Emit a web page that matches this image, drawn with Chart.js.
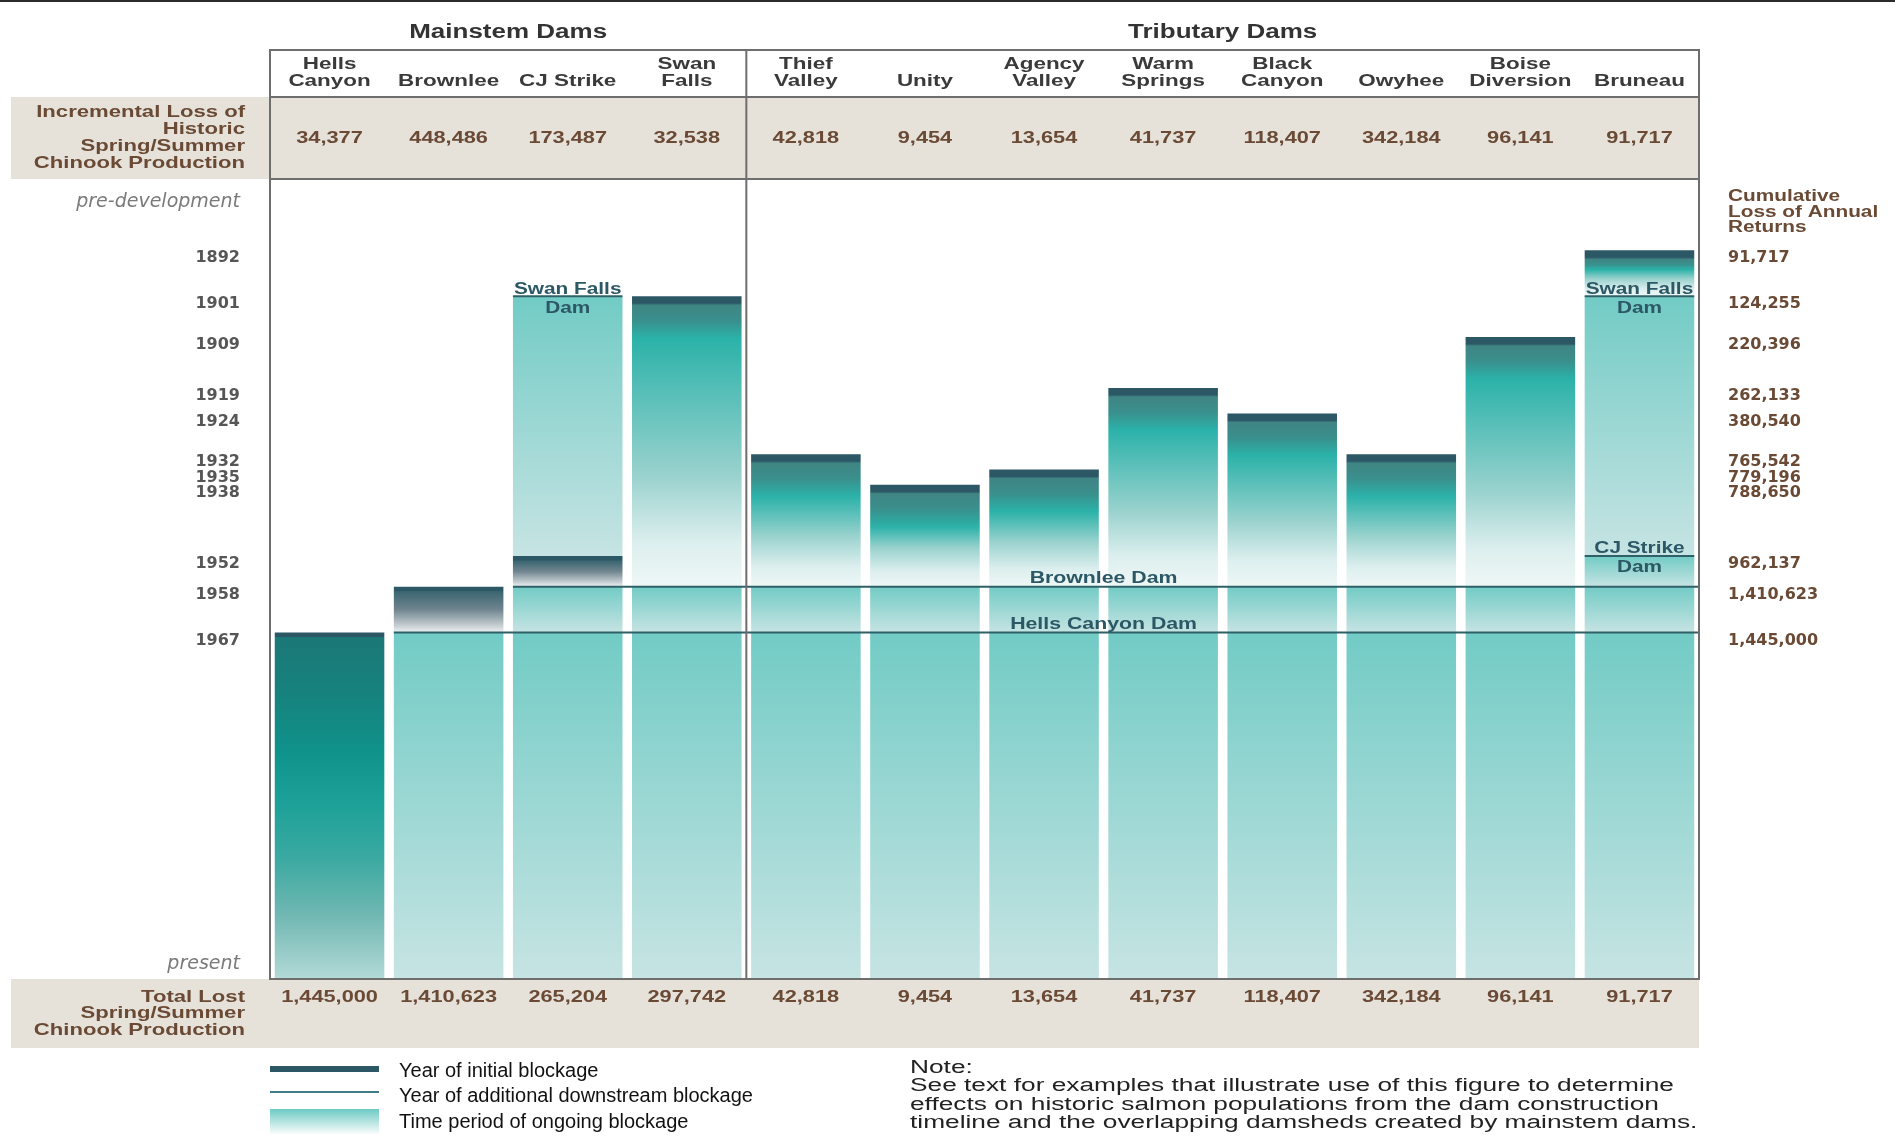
<!DOCTYPE html>
<html>
<head>
<meta charset="utf-8">
<title>Dam construction timeline and lost spring/summer Chinook production</title>
<script src="https://cdn.jsdelivr.net/npm/chart.js@4.4.1/dist/chart.umd.min.js"></script>
<style>
  html, body { margin: 0; padding: 0; background: #fff; }
  #wrap { position: relative; width: 1895px; height: 1146px; }
</style>
</head>
<body>
<div id="wrap"><canvas id="damChart"></canvas></div>
<script>
// ---- data ----
const damNames = [['Hells', 'Canyon'], ['Brownlee'], ['CJ Strike'], ['Swan', 'Falls'],
  ['Thief', 'Valley'], ['Unity'], ['Agency', 'Valley'], ['Warm', 'Springs'],
  ['Black', 'Canyon'], ['Owyhee'], ['Boise', 'Diversion'], ['Bruneau']];
const groupNames = ['Mainstem Dams', 'Tributary Dams'];
const mainstemCount = 4;

const incrementalLoss = [34377, 448486, 173487, 32538, 42818, 9454, 13654, 41737, 118407, 342184, 96141, 91717];
const totalLost = [1445000, 1410623, 265204, 297742, 42818, 9454, 13654, 41737, 118407, 342184, 96141, 91717];

// time axis (years run downwards)
const TOP_YEAR = 1878;
const END_YEAR = 2035;
const PRE_DEV = 1881;
const PRESENT = 2030.5;

// year of initial blockage and end of that first period (next downstream dam)
const initialYear = [1967, 1958, 1952, 1901, 1932, 1938, 1935, 1919, 1924, 1932, 1909, 1892];
const initialEnd  = [END_YEAR, 1967, 1958, 1958, 1958, 1958, 1958, 1958, 1958, 1958, 1958, 1901];

// periods of ongoing blockage after each additional downstream dam
const swanFallsSpan = [null, null, [1901, 1952], null, null, null, null, null, null, null, null, [1901, 1952]];
const cjStrikeSpan = [null, null, null, null, null, null, null, null, null, null, null, [1952, 1958]];
const brownleeSpan = [null, null, [1958, 1967], [1958, 1967], [1958, 1967], [1958, 1967], [1958, 1967],
  [1958, 1967], [1958, 1967], [1958, 1967], [1958, 1967], [1958, 1967]];
const hellsCanyonSpan = [null, [1967, END_YEAR], [1967, END_YEAR], [1967, END_YEAR], [1967, END_YEAR], [1967, END_YEAR],
  [1967, END_YEAR], [1967, END_YEAR], [1967, END_YEAR], [1967, END_YEAR], [1967, END_YEAR], [1967, END_YEAR]];

const tickYears = [1892, 1901, 1909, 1919, 1924, 1932, 1935, 1938, 1952, 1958, 1967];
const cumulativeLoss = [91717, 124255, 220396, 262133, 380540, 765542, 779196, 788650, 962137, 1410623, 1445000];

const mainLines = [
  { name: 'Brownlee Dam', year: 1958, fromCol: 2 },
  { name: 'Hells Canyon Dam', year: 1967, fromCol: 1 }
];
const damMarks = [
  { name: 'Swan Falls', col: 2, year: 1901 },
  { name: 'Swan Falls', col: 11, year: 1901 },
  { name: 'CJ Strike', col: 11, year: 1952 }
];

// ---- styles ----
const FONT = "'Liberation Sans', Arial, Helvetica, sans-serif";
const BAND = '#e6e2da';
const BOX = '#6e6e6e';
const BROWN = '#6a4a35';
const DARK = '#2c5866';
const LINE = '#2f6068';

function fmt(n) { return n.toLocaleString('en-US'); }

function stretchText(c, str, x, y, o) {
  c.save();
  c.font = (o.style || 'normal') + ' ' + (o.weight || 'bold') + ' ' + o.size + 'px ' + (o.family || FONT);
  c.fillStyle = o.color || '#333';
  c.textAlign = o.align || 'center';
  c.textBaseline = 'middle';
  c.translate(x, y);
  c.scale(o.sx || 1, 1);
  c.fillText(str, 0, 0);
  c.restore();
}

function makeGradient(ctx) {
  const chart = ctx.chart;
  const raw = ctx.raw;
  if (!chart.chartArea || !raw) return null;
  const ys = chart.scales.y;
  const top = ys.getPixelForValue(raw[0]);
  const bot = ys.getPixelForValue(raw[1]);
  return { g: chart.ctx.createLinearGradient(0, top, 0, bot), h: Math.max(1, bot - top) };
}

function addStops(g, stops) {
  stops.forEach(s => g.addColorStop(Math.min(1, Math.max(0, s[0])), s[1]));
}

function initialFill(ctx) {
  const r = makeGradient(ctx);
  if (!r) return '#7fcfca';
  const { g, h } = r;
  const i = ctx.dataIndex;
  if (i === 0) {
    addStops(g, [[0, DARK], [4 / h, DARK], [5 / h, '#1b7876'], [0.2, '#16847f'], [0.35, '#0f938b'],
      [0.5, '#1ea198'], [0.65, '#3aa9a1'], [0.82, '#72b8b3'], [1, '#b3dad7']]);
  } else if (i < 3) {
    addStops(g, [[0, DARK], [4 / h, DARK], [5 / h, '#3b6672'], [0.5, '#70858f'], [0.8, '#b9c3c8'], [1, '#eef1f2']]);
  } else {
    const t1 = 7 / h, t2 = 9 / h;
    const t3 = Math.max(t2 + 0.01, Math.min(24 / h, 0.3));
    const t4 = Math.max(t3 + 0.01, Math.min(42 / h, 0.42));
    addStops(g, [[0, DARK], [t1, DARK], [t2, '#3f8584'], [t3, '#3a8f8c'], [t4, '#2bb2a9'],
      [Math.max(t4 + 0.01, 0.62), '#9ad2ce'], [Math.max(t4 + 0.02, 0.85), '#dcefee'], [1, '#eef7f6']]);
  }
  return g;
}

function lightFill(ctx) {
  const r = makeGradient(ctx);
  if (!r) return '#9fd8d4';
  addStops(r.g, [[0, '#72cbc5'], [1, '#c6e4e3']]);
  return r.g;
}

const leftTicks = [PRE_DEV].concat(tickYears, [PRESENT]);

const tablePlugin = {
  id: 'damTable',
  beforeDraw(chart) {
    const c = chart.ctx, ca = chart.chartArea;
    c.save();
    c.fillStyle = '#fff';
    c.fillRect(0, 0, chart.width, chart.height);
    c.fillStyle = '#2b2b2b';
    c.fillRect(0, 0, chart.width, 2);
    c.fillStyle = BAND;
    c.fillRect(11, ca.top - 82, ca.right - 11, 82);
    c.fillRect(11, ca.bottom, ca.right - 11, 69);
    c.restore();
  },
  afterDatasetsDraw(chart) {
    const c = chart.ctx, ca = chart.chartArea, ys = chart.scales.y;
    const bars = chart.getDatasetMeta(0).data;
    const left = i => bars[i].x - bars[i].width / 2;
    const right = i => bars[i].x + bars[i].width / 2;
    const yp = v => ys.getPixelForValue(v);
    const headTop = ca.top - 129;
    const divider = (bars[mainstemCount - 1].x + bars[mainstemCount].x) / 2;

    // additional downstream blockage lines
    c.save();
    c.strokeStyle = LINE;
    c.lineWidth = 2;
    mainLines.forEach(l => {
      c.beginPath();
      c.moveTo(left(l.fromCol), yp(l.year));
      c.lineTo(ca.right, yp(l.year));
      c.stroke();
    });
    damMarks.forEach(m => {
      c.beginPath();
      c.moveTo(left(m.col), yp(m.year));
      c.lineTo(right(m.col), yp(m.year));
      c.stroke();
    });
    c.restore();

    const labelX = (bars[6].x + bars[7].x) / 2;
    mainLines.forEach(l => {
      stretchText(c, l.name, labelX, yp(l.year) - 8, { size: 16, sx: 1.33, color: DARK });
    });
    damMarks.forEach(m => {
      stretchText(c, m.name, bars[m.col].x, yp(m.year) - 7, { size: 16, sx: 1.3, color: DARK });
      stretchText(c, 'Dam', bars[m.col].x, yp(m.year) + 12, { size: 16, sx: 1.3, color: DARK });
    });

    // frame
    c.save();
    c.strokeStyle = BOX;
    c.lineWidth = 2;
    c.beginPath();
    [headTop, ca.top - 82, ca.top, ca.bottom].forEach(y => { c.moveTo(ca.left, y); c.lineTo(ca.right, y); });
    [ca.left, divider, ca.right].forEach(x => { c.moveTo(x, headTop - 1); c.lineTo(x, ca.bottom + 1); });
    c.stroke();
    c.restore();

    // group titles and column names
    stretchText(c, groupNames[0], (ca.left + divider) / 2, ca.top - 147, { size: 20, sx: 1.3, color: '#333' });
    stretchText(c, groupNames[1], (divider + ca.right) / 2, ca.top - 147, { size: 20, sx: 1.3, color: '#333' });
    damNames.forEach((n, i) => {
      const lines = n.length === 2 ? n : ['', n[0]];
      stretchText(c, lines[0], bars[i].x, ca.top - 115, { size: 17, sx: 1.32, color: '#3a3a3a' });
      stretchText(c, lines[1], bars[i].x, ca.top - 98, { size: 17, sx: 1.32, color: '#3a3a3a' });
      stretchText(c, fmt(incrementalLoss[i]), bars[i].x, ca.top - 41, { size: 17, sx: 1.28, color: BROWN });
      stretchText(c, fmt(totalLost[i]), bars[i].x, ca.bottom + 18, { size: 17, sx: 1.28, color: BROWN });
    });

    // row labels
    const rowX = ca.left - 25;
    ['Incremental Loss of', 'Historic', 'Spring/Summer', 'Chinook Production'].forEach((s, k) => {
      stretchText(c, s, rowX, ca.top - 67 + k * 17, { size: 17, sx: 1.3, color: BROWN, align: 'right' });
    });
    ['Total Lost', 'Spring/Summer', 'Chinook Production'].forEach((s, k) => {
      stretchText(c, s, rowX, ca.bottom + 18 + k * 16.5, { size: 17, sx: 1.3, color: BROWN, align: 'right' });
    });
    ['Cumulative', 'Loss of Annual', 'Returns'].forEach((s, k) => {
      stretchText(c, s, ca.right + 29, ca.top + 18 + k * 15.5, { size: 16, sx: 1.3, color: BROWN, align: 'left' });
    });

    // legend
    const lx = ca.left, lw = 109, tx = ca.left + 129;
    c.save();
    c.fillStyle = DARK;
    c.fillRect(lx, ca.bottom + 87, lw, 6);
    c.fillStyle = '#3f7d88';
    c.fillRect(lx, ca.bottom + 112, lw, 2);
    const lg = c.createLinearGradient(0, ca.bottom + 130, 0, ca.bottom + 156);
    lg.addColorStop(0, '#6ecac4');
    lg.addColorStop(1, '#ffffff');
    c.fillStyle = lg;
    c.fillRect(lx, ca.bottom + 130, lw, 26);
    c.restore();
    const legFont = { size: 20, weight: 'normal', color: '#111', align: 'left' };
    stretchText(c, 'Year of initial blockage', tx, ca.bottom + 92, legFont);
    stretchText(c, 'Year of additional downstream blockage', tx, ca.bottom + 117, legFont);
    stretchText(c, 'Time period of ongoing blockage', tx, ca.bottom + 143, legFont);

    // note
    const nx = ca.left + 640;
    const noteFont = { size: 18, weight: 'normal', sx: 1.46, color: '#222', align: 'left' };
    ['Note:',
      'See text for examples that illustrate use of this figure to determine',
      'effects on historic salmon populations from the dam construction',
      'timeline and the overlapping damsheds created by mainstem dams.'
    ].forEach((s, k) => stretchText(c, s, nx, ca.bottom + 89 + k * 18.3, noteFont));
  }
};

const isEndTick = c => c.tick && (c.tick.value === PRE_DEV || c.tick.value === PRESENT);

new Chart(document.getElementById('damChart'), {
  type: 'bar',
  data: {
    labels: damNames,
    datasets: [
      { label: 'Initial blockage', data: initialYear.map((y, i) => [y, initialEnd[i]]), backgroundColor: initialFill },
      { label: 'Swan Falls Dam', data: swanFallsSpan, backgroundColor: lightFill },
      { label: 'CJ Strike Dam', data: cjStrikeSpan, backgroundColor: lightFill },
      { label: 'Brownlee Dam', data: brownleeSpan, backgroundColor: lightFill },
      { label: 'Hells Canyon Dam', data: hellsCanyonSpan, backgroundColor: lightFill }
    ]
  },
  options: {
    responsive: true,
    maintainAspectRatio: false,
    animation: false,
    devicePixelRatio: 1,
    layout: { padding: { top: 179, bottom: 167, left: 0, right: 0 } },
    datasets: { bar: { grouped: false, barPercentage: 0.92, categoryPercentage: 1, borderWidth: 0 } },
    plugins: { legend: { display: false }, tooltip: { enabled: false } },
    scales: {
      x: { type: 'category', display: false },
      y: {
        type: 'linear',
        position: 'left',
        reverse: true,
        min: TOP_YEAR,
        max: END_YEAR,
        grid: { display: false, drawTicks: false },
        border: { display: false },
        afterBuildTicks: s => { s.ticks = leftTicks.map(v => ({ value: v })); },
        afterFit: s => { s.width = 270; },
        ticks: {
          autoSkip: false,
          padding: 30,
          labelOffset: 8,
          callback: v => v === PRE_DEV ? 'pre-development' : v === PRESENT ? 'present' : String(v),
          font: c => isEndTick(c)
            ? { family: "'DejaVu Sans', sans-serif", size: 19, style: 'italic', weight: 'normal' }
            : { family: "'DejaVu Sans', sans-serif", size: 16, weight: 'bold' },
          color: c => isEndTick(c) ? '#7a7a7a' : '#565656'
        }
      },
      y2: {
        type: 'linear',
        position: 'right',
        reverse: true,
        min: TOP_YEAR,
        max: END_YEAR,
        grid: { display: false, drawTicks: false },
        border: { display: false },
        afterBuildTicks: s => { s.ticks = tickYears.map(v => ({ value: v })); },
        afterFit: s => { s.width = 196; },
        ticks: {
          autoSkip: false,
          padding: 29,
          labelOffset: 8,
          callback: v => fmt(cumulativeLoss[tickYears.indexOf(v)]),
          font: { family: "'DejaVu Sans', sans-serif", size: 16, weight: 'bold' },
          color: BROWN
        }
      }
    }
  },
  plugins: [tablePlugin]
});
</script>
</body>
</html>
